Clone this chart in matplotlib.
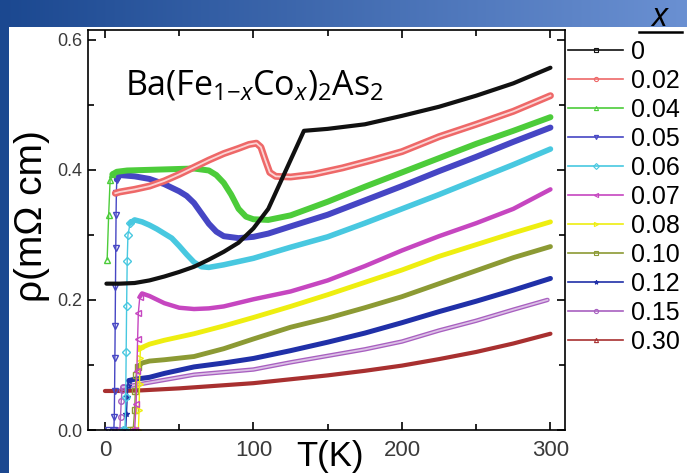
import numpy as np
import matplotlib
matplotlib.use('Agg')
import matplotlib.pyplot as plt
from matplotlib.lines import Line2D
from matplotlib.patches import Rectangle
from matplotlib.colors import LinearSegmentedColormap
from matplotlib.ticker import FormatStrFormatter

plt.rcParams['font.family'] = ['Liberation Sans', 'DejaVu Sans']
plt.rcParams['mathtext.fontset'] = 'custom'
plt.rcParams['mathtext.rm'] = 'Open Sans'
plt.rcParams['mathtext.it'] = 'Open Sans:italic'

# resistivity curves, T in K, rho in mOhm cm
labels = ['0', '0.02', '0.04', '0.05', '0.06', '0.07', '0.08', '0.10', '0.12', '0.15', '0.30']

T_000 = [1, 10, 20, 30, 40, 50, 60, 70, 80, 90, 100, 110, 118, 125, 130, 134, 150, 175, 200, 225, 250, 275, 300]
rho_000 = [0.225, 0.225, 0.226, 0.23, 0.236, 0.243, 0.251, 0.262, 0.274, 0.288, 0.31, 0.34, 0.38, 0.415, 0.44,
           0.46, 0.463, 0.47, 0.483, 0.497, 0.514, 0.533, 0.557]

T_002 = [7, 10, 20, 30, 40, 50, 60, 70, 80, 90, 97, 102, 105, 108, 111, 115, 125, 140, 160, 180, 200, 225, 250,
         275, 300]
rho_002 = [0.364, 0.366, 0.37, 0.375, 0.383, 0.393, 0.404, 0.415, 0.425, 0.433, 0.439, 0.441, 0.435, 0.415, 0.396,
           0.39, 0.389, 0.393, 0.403, 0.415, 0.428, 0.451, 0.47, 0.49, 0.514]

T_004 = [1.5, 2.5, 3.5, 5, 8, 15, 30, 45, 60, 70, 75, 80, 85, 90, 95, 100, 110, 125, 150, 175, 200, 225, 250, 275,
         300]
rho_004 = [0.262, 0.33, 0.385, 0.393, 0.397, 0.399, 0.4, 0.401, 0.402, 0.399, 0.392, 0.38, 0.362, 0.34, 0.328,
           0.324, 0.323, 0.33, 0.351, 0.374, 0.396, 0.418, 0.44, 0.46, 0.481]

T_005 = [2, 6, 6.3, 6.5, 6.7, 6.9, 7.1, 7.3, 7.5, 7.7, 8, 10, 20, 30, 40, 50, 55, 60, 65, 70, 75, 80, 90, 100, 110,
         125, 150, 175, 200, 225, 250, 275, 300]
rho_005 = [0.0, 0.0, 0.02, 0.06, 0.11, 0.16, 0.22, 0.28, 0.33, 0.365, 0.385, 0.392, 0.39, 0.386, 0.378, 0.367, 0.36,
           0.349, 0.333, 0.317, 0.305, 0.298, 0.295, 0.297, 0.302, 0.313, 0.331, 0.353, 0.375, 0.398, 0.42, 0.443,
           0.465]

T_006 = [12, 13.5, 14, 14.3, 14.6, 15, 15.5, 17, 20, 25, 30, 35, 40, 45, 50, 55, 60, 65, 70, 80, 90, 100, 125, 150,
         175, 200, 225, 250, 275, 300]
rho_006 = [0.0, 0.0, 0.05, 0.12, 0.19, 0.26, 0.3, 0.318, 0.323, 0.32, 0.315, 0.309, 0.302, 0.295, 0.283, 0.27,
           0.258, 0.251, 0.25, 0.254, 0.259, 0.264, 0.281, 0.297, 0.318, 0.34, 0.362, 0.385, 0.408, 0.432]

T_007 = [18, 20, 21, 21.5, 22, 22.5, 23.5, 25, 30, 40, 50, 60, 70, 80, 100, 125, 150, 175, 200, 225, 250, 275, 300]
rho_007 = [0.0, 0.0, 0.04, 0.09, 0.14, 0.18, 0.205, 0.21, 0.206, 0.195, 0.188, 0.186, 0.187, 0.19, 0.201, 0.213,
           0.23, 0.252, 0.276, 0.298, 0.318, 0.34, 0.37]

T_008 = [21, 22.5, 23, 23.3, 23.6, 24, 30, 40, 60, 80, 100, 125, 150, 175, 200, 225, 250, 275, 300]
rho_008 = [0.0, 0.0, 0.03, 0.07, 0.11, 0.126, 0.132, 0.138, 0.148, 0.16, 0.173, 0.19, 0.208, 0.227, 0.246, 0.267,
           0.285, 0.303, 0.32]

T_010 = [17, 19, 20, 20.5, 21, 22, 25, 30, 40, 60, 80, 100, 125, 150, 175, 200, 225, 250, 275, 300]
rho_010 = [0.0, 0.0, 0.03, 0.06, 0.085, 0.097, 0.103, 0.106, 0.108, 0.113, 0.125, 0.14, 0.158, 0.172, 0.188, 0.205,
           0.225, 0.245, 0.265, 0.282]

T_012 = [12, 14, 14.5, 15, 15.5, 16, 20, 30, 40, 60, 80, 100, 125, 150, 175, 200, 225, 250, 275, 300]
rho_012 = [0.0, 0.0, 0.025, 0.05, 0.068, 0.076, 0.078, 0.081, 0.087, 0.097, 0.103, 0.11, 0.122, 0.135, 0.149, 0.165,
           0.182, 0.198, 0.215, 0.233]

T_015 = [8, 10, 10.5, 11, 11.5, 12, 15, 20, 30, 40, 60, 80, 100, 125, 150, 175, 200, 225, 250, 275, 298]
rho_015 = [0.0, 0.0, 0.02, 0.045, 0.062, 0.066, 0.067, 0.069, 0.073, 0.077, 0.085, 0.089, 0.093, 0.104, 0.114, 0.124,
           0.136, 0.153, 0.168, 0.185, 0.2]

T_030 = [0, 10, 25, 50, 75, 100, 125, 150, 175, 200, 225, 250, 275, 300]
rho_030 = [0.06, 0.06, 0.061, 0.064, 0.068, 0.072, 0.078, 0.084, 0.091, 0.099, 0.109, 0.12, 0.133, 0.148]

temps = [T_000, T_002, T_004, T_005, T_006, T_007, T_008, T_010, T_012, T_015, T_030]
rhos = [rho_000, rho_002, rho_004, rho_005, rho_006, rho_007, rho_008, rho_010, rho_012, rho_015, rho_030]

# colour, line width, marker, number of points in the superconducting drop
styles = [('#111111', 3.0, 's', 0),
          ('#ee6868', 5.0, 'o', 0),
          ('#4ccc3a', 4.3, '^', 3),
          ('#4646c4', 4.3, 'v', 10),
          ('#48c8e0', 4.0, 'D', 7),
          ('#c646c0', 3.2, '<', 6),
          ('#eeee10', 3.5, '>', 5),
          ('#8c9a34', 3.5, 's', 5),
          ('#2030a8', 3.6, '*', 5),
          ('#a860c0', 3.2, 'o', 5),
          ('#a83030', 3.0, '^', 0)]

fig = plt.figure(figsize=(6.87, 4.73), dpi=100)

# blue slide background with white panel
bg = fig.add_axes([0, 0, 1, 1], zorder=-10)
cmap = LinearSegmentedColormap.from_list('bg', ['#1b4890', '#6a90d2'])
bg.imshow(np.linspace(0, 1, 256)[None, :], cmap=cmap, aspect='auto', extent=[0, 1, 0, 1])
bg.add_patch(Rectangle((9 / 687, 0), 1, 1 - 27 / 473, facecolor='white', edgecolor='none'))
bg.set_xlim(0, 1)
bg.set_ylim(0, 1)
bg.axis('off')

ax = fig.add_axes([88 / 687, 1 - 430 / 473, 477 / 687, 400 / 473])

# draw from the highest x down so the x=0 curve ends on top
for i in reversed(range(len(labels))):
    T = np.array(temps[i])
    rho = np.array(rhos[i])
    color, lw, marker, n_sc = styles[i]
    if n_sc:
        ax.plot(T[:n_sc + 1], rho[:n_sc + 1], color=color, lw=1.0, marker=marker, ms=4,
                mfc='none', mew=1.0)
    ax.plot(T[n_sc:], rho[n_sc:], color=color, lw=lw, solid_capstyle='round', solid_joinstyle='round')
    if labels[i] in ('0.02', '0.15'):
        ax.plot(T[n_sc:], rho[n_sc:], color='#fbd4d4' if labels[i] == '0.02' else '#dcc0e6', lw=1.3)

ax.set_xlim(-11.4, 309.8)
ax.set_ylim(0, 0.615)
ax.set_xticks([0, 100, 200, 300])
ax.set_xticks([50, 150, 250], minor=True)
ax.set_yticks([0, 0.2, 0.4, 0.6])
ax.set_yticks([0.1, 0.3, 0.5], minor=True)
ax.yaxis.set_major_formatter(FormatStrFormatter('%.1f'))
ax.tick_params(which='both', direction='in', top=True, right=True, width=1.2, labelcolor='#3a3a3a')
ax.tick_params(which='major', length=6)
ax.tick_params(which='minor', length=4)
ax.tick_params(axis='x', labelsize=16, pad=7)
ax.tick_params(axis='y', labelsize=13, pad=4)
for s in ax.spines.values():
    s.set_linewidth(1.2)

ax.set_ylabel('ρ(mΩ cm)', fontsize=28)
ax.yaxis.set_label_coords(-0.08, 0.535)
ax.set_xlabel('T(K)', fontsize=25, va='top')
ax.xaxis.set_label_coords(0.507, -0.025)

ax.text(0.078, 0.8375, r'Ba(Fe$_{1{-}x}$Co$_x$)$_2$As$_2$', transform=ax.transAxes,
        family='Open Sans', fontsize=24.5, va='baseline', ha='left')

handles = [Line2D([], [], color=styles[i][0], lw=1.2, marker=styles[i][2], ms=3, mfc='none', mew=0.8)
           for i in range(len(labels))]
fig.legend(handles, labels, loc='upper left', bbox_to_anchor=(568 / 687, 1 - 40 / 473), frameon=False,
           fontsize=18, handlelength=2.2, handletextpad=0.3, labelspacing=0.2, borderaxespad=0, borderpad=0)

fig.text(659 / 687, 1 - 18 / 473, 'x', family='Open Sans', style='italic', fontsize=24, ha='center', va='center')
fig.add_artist(Line2D([639 / 687, 682 / 687], [1 - 32 / 473, 1 - 32 / 473], color='black', lw=1.8,
                      transform=fig.transFigure))

fig.savefig('out.png', dpi=100)
